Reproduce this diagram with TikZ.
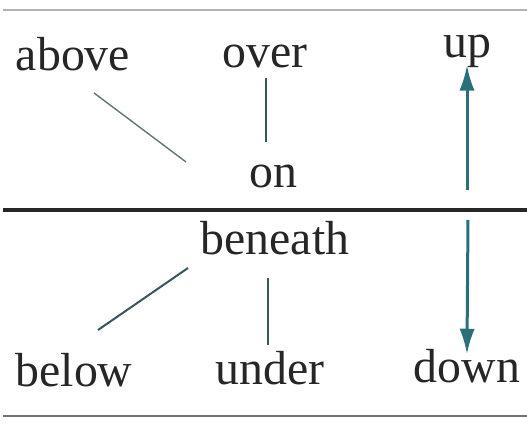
\documentclass[tikz,border=0pt]{standalone}
\usepackage{fontspec}
\setmainfont{Liberation Serif}
\usetikzlibrary{arrows.meta}
\definecolor{inkgray}{RGB}{38,38,38}
\definecolor{arrowteal}{RGB}{42,112,122}
\definecolor{linkteal}{RGB}{55,85,90}
\definecolor{palelink}{RGB}{100,120,120}

\tikzset{
  word/.style={anchor=base, inner sep=0pt, text=inkgray, font=\fontsize{34}{40}\selectfont},
  link/.style={line width=0.5mm, linkteal},
  arrowline/.style={line width=0.75mm, arrowteal, -{Latex[length=6.4mm, width=3.8mm]}}
}

\begin{document}
\begin{tikzpicture}[x=0.25mm, y=-0.25mm]
    \useasboundingbox (0,0) rectangle (527,427);

    % Rules
    \draw[line width=0.5mm, black!30] (3,10) -- (527,10);
    \draw[line width=1mm, black!85] (3,210) -- (527,210);
    \draw[line width=0.6mm, black!55] (3,416) -- (527,416);

    % Top half
    \node[word] (above) at (73,71) {above};
    \node[word] (over) at (265,68) {over};
    \node[word] (up) at (467,58) {up};
    \node[word] (on) at (273,188) {on};

    % Bottom half
    \node[word] (beneath) at (275,255) {beneath};
    \node[word] (below) at (74,387) {below};
    \node[word] (under) at (270,385) {under};
    \node[word] (down) at (467,383) {down};

    % Free ends of the slanted links
    \coordinate (aboveEnd) at (94,93);
    \coordinate (onEnd) at (186,162);
    \coordinate (beneathEnd) at (188,268);
    \coordinate (belowEnd) at (98,330);
    \coordinate (upTail) at (467,190);
    \coordinate (downTail) at (468,220);

    % Links
    \draw[line width=0.35mm, palelink] (aboveEnd) -- (onEnd);
    \draw[link, line width=0.6mm, shorten <=2.2mm, shorten >=5.7mm] (over.south -| 266,0) -- (on.north -| 266,0);
    \draw[link] (beneathEnd) -- (belowEnd);
    \draw[link, shorten <=5.5mm, shorten >=1.75mm] (beneath.south -| 268,0) -- (under.north -| 268,0);

    % Arrows
    \draw[arrowline, shorten >=1.75mm] (upTail) -- (up.base);
    \draw[arrowline, shorten >=-1.2mm] (downTail) -- (down.north);
\end{tikzpicture}
\end{document}
